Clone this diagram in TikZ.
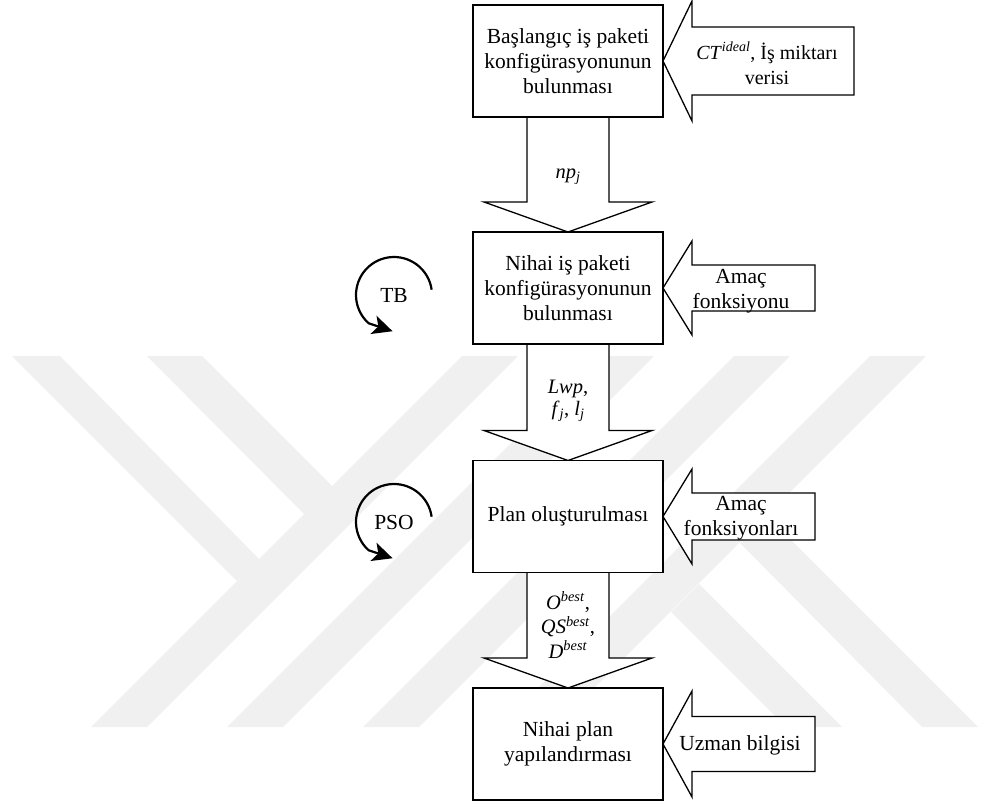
\documentclass[tikz,border=0pt]{standalone}
\usepackage{fontspec}
\setmainfont{Liberation Serif}
\usetikzlibrary{calc,arrows.meta}
\pgfdeclarelayer{wmark}
\pgfdeclarelayer{arrowlayer}
\pgfsetlayers{wmark,arrowlayer,main}

% hollow arrow pointing down from node #1 to node #2
\newcommand\dnarrow[2]{%
  \path[fatarrow] ($(#1.south)+(-41,0)$) -- ($(#2.north)+(-41,-30)$)
    -- ($(#2.north)+(-84,-30)$) -- (#2.north) -- ($(#2.north)+(84,-30)$)
    -- ($(#2.north)+(41,-30)$) -- ($(#1.south)+(41,0)$);}
% hollow arrow pointing left into node #1: head half height, shaft half height, length
\newcommand\lfarrow[4]{%
  \path[fatarrow] (#1.east) -- ($(#1.east)+(29,-#2)$) -- ($(#1.east)+(29,-#3)$)
    -- ($(#1.east)+(#4,-#3)$) -- ($(#1.east)+(#4,#3)$) -- ($(#1.east)+(29,#3)$)
    -- ($(#1.east)+(29,#2)$) -- cycle;}

\begin{document}
\begin{tikzpicture}[x=1pt,y=-1pt,
  box/.style={draw,line width=1.7pt,fill=white,minimum width=190pt,minimum height=112pt,
    outer sep=0pt,inner sep=0pt,align=center,font=\fontsize{21.5}{25}\selectfont},
  fatarrow/.style={draw,line width=1.3pt,fill=white,line join=miter},
  lbl/.style={align=center,inner sep=0pt,font=\fontsize{20.5}{22}\selectfont},
  side/.style={align=center,inner sep=0pt,font=\fontsize{21.5}{25}\selectfont},
  wm/.style={fill=black!6,draw=none},
  loop/.style={line width=2.2pt,-{Stealth[length=20pt,width=19pt,inset=5pt]}},
]
\useasboundingbox (0,0) rectangle (981,805);

% faint background emblem
\begin{pgfonlayer}{wmark}
  % rising strokes
  \fill[wm] (462,356) -- (518,356) -- (147,727) -- (91,727) -- cycle;
  \fill[wm] (598,356) -- (654,356) -- (283,727) -- (227,727) -- cycle;
  \fill[wm] (734,356) -- (790,356) -- (419,727) -- (363,727) -- cycle;
  \fill[wm] (870,356) -- (926,356) -- (555,727) -- (499,727) -- cycle;
  % falling strokes on the left
  \fill[wm] (12,356) -- (60,356) -- (259,559) -- (237,581) -- cycle;
  \fill[wm] (147,356) -- (202,356) -- (332,486) -- (304,514) -- cycle;
  % falling strokes on the right
  \fill[wm] (671,612) -- (699,584) -- (842,727) -- (786,727) -- cycle;
  \fill[wm] (740,543) -- (767,516) -- (978,727) -- (922,727) -- cycle;
\end{pgfonlayer}

% process boxes
\node[box] (b1) at (568,61) {Başlangıç iş paketi\\konfigürasyonunun\\bulunması};
\node[box] (b2) at (568,288) {Nihai iş paketi\\konfigürasyonunun\\bulunması};
\node[box] (b3) at (568,516.5) {Plan oluşturulması};
\node[box] (b4) at (568,744) {Nihai plan\\yapılandırması};

% hollow connector arrows
\begin{pgfonlayer}{arrowlayer}
  \dnarrow{b1}{b2}
  \dnarrow{b2}{b3}
  \dnarrow{b3}{b4}
  \lfarrow{b1}{60}{34}{191}
  \lfarrow{b2}{47}{23}{152}
  \lfarrow{b3}{47.5}{23.5}{152}
  \lfarrow{b4}{53}{27.5}{152}
\end{pgfonlayer}

% labels on the downward arrows
\node[lbl] (lnp) at (568,177) {\textit{np}\textsubscript{\textit{j}}};
\node[lbl] (llwp) at (568,401) {\textit{Lwp},\\\textit{f}\textsubscript{\textit{j}}, \textit{l}\textsubscript{\textit{j}}};
\node[lbl,font=\fontsize{20.5}{24.5}\selectfont] (lbest) at (568,625) {\textit{O}\textsuperscript{\textit{best}},\\\textit{QS}\textsuperscript{\textit{best}},\\\textit{D}\textsuperscript{\textit{best}}};

% inputs from the right
\node[side,font=\fontsize{20}{25}\selectfont] (ct) at (767,63) {\textit{CT}\textsuperscript{\textit{ideal}}, İş miktarı\\verisi};
\node[side] (ob1) at (741,291) {Amaç\\fonksiyonu};
\node[side] (ob2) at (741,518) {Amaç\\fonksiyonları};
\node[side] (uz) at (740,745) {Uzman bilgisi};

% iteration loops
\node[side] (tb) at (394,295) {TB};
\node[side] (pso) at (394,522) {PSO};
\draw[loop] ($(tb)+(-8:38)$) arc[start angle=-8,end angle=-228,radius=38] -- ++(24,8);
\draw[loop] ($(pso)+(-8:38)$) arc[start angle=-8,end angle=-228,radius=38] -- ++(24,8);
\end{tikzpicture}
\end{document}
